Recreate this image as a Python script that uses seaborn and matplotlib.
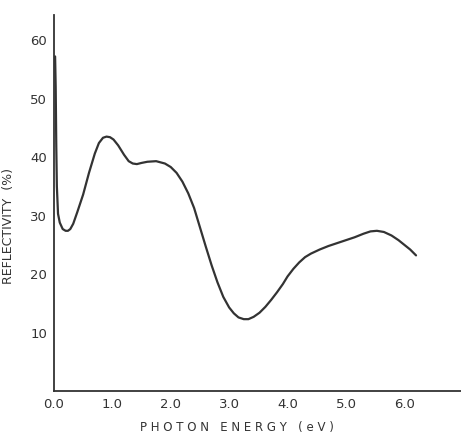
import numpy as np
import pandas as pd
import matplotlib
matplotlib.use('Agg')
import matplotlib.pyplot as plt
import seaborn as sns

# values
energy = [0.02, 0.03, 0.04, 0.05, 0.07, 0.10, 0.15, 0.20, 0.24, 0.28,
          0.33, 0.40, 0.50, 0.60, 0.70, 0.77, 0.84, 0.90, 0.96, 1.02,
          1.10, 1.20, 1.28, 1.35, 1.42, 1.50, 1.60, 1.75, 1.90, 2.00,
          2.10, 2.20, 2.30, 2.40, 2.50, 2.60, 2.70, 2.80, 2.90, 3.00,
          3.08, 3.16, 3.25, 3.33, 3.42, 3.52, 3.62, 3.72, 3.82, 3.92,
          4.00, 4.10, 4.20, 4.30, 4.40, 4.55, 4.70, 4.85, 5.00, 5.15,
          5.30, 5.42, 5.53, 5.65, 5.78, 5.90, 6.00, 6.10, 6.20]
reflectivity = [57.2, 52.0, 42.0, 35.0, 30.3, 28.8, 27.7, 27.4, 27.4, 27.7,
                28.6, 30.6, 33.6, 37.3, 40.6, 42.4, 43.3, 43.5, 43.4, 43.0,
                42.0, 40.4, 39.3, 38.9, 38.8, 39.0, 39.2, 39.3, 38.9, 38.3,
                37.3, 35.8, 33.8, 31.3, 28.0, 24.7, 21.5, 18.6, 16.1, 14.3,
                13.3, 12.6, 12.3, 12.3, 12.7, 13.4, 14.4, 15.6, 16.9, 18.3,
                19.6, 20.9, 22.0, 22.9, 23.5, 24.2, 24.8, 25.3, 25.8, 26.3,
                26.9, 27.3, 27.4, 27.2, 26.6, 25.8, 25.0, 24.2, 23.2]

xticks = [0, 1, 2, 3, 4, 5, 6]
xticklabels = ['0.0', '1.0', '2.0', '3.0', '4.0', '5.0', '6.0']
yticks = [10, 20, 30, 40, 50, 60]
yticklabels = ['10', '20', '30', '40', '50', '60']

df = pd.DataFrame({'energy': energy, 'refl': reflectivity})

sns.set_style('white')
plt.rcParams['font.family'] = ['DejaVu Sans']

ink = '#333333'
fig = plt.figure(figsize=(4.61, 4.38), dpi=100)
ax = fig.add_axes([0.117, 0.107, 0.883, 0.859])

sns.lineplot(data=df, x='energy', y='refl', ax=ax, color=ink, linewidth=1.6, sort=False)

ax.set_xlim(0, 6.97)
ax.set_ylim(0, 64.3)
ax.set_xticks(xticks)
ax.set_xticklabels(xticklabels)
ax.set_yticks(yticks)
ax.set_yticklabels(yticklabels)
ax.tick_params(direction='in', length=4, width=1, colors=ink, labelsize=9.5, pad=5)

for s in ['top', 'right']:
    ax.spines[s].set_visible(False)
for s in ['left', 'bottom']:
    ax.spines[s].set_color(ink)
    ax.spines[s].set_linewidth(1.3)

ax.set_xlabel('P H O T O N   E N E R G Y   ( e V )', fontsize=8.5, color=ink)
ax.set_ylabel('REFLECTIVITY  (%)', fontsize=9, color=ink)
ax.xaxis.set_label_coords(0.45, -0.08)
ax.yaxis.set_label_coords(-0.095, 0.44)

fig.savefig('out.png', dpi=100)
